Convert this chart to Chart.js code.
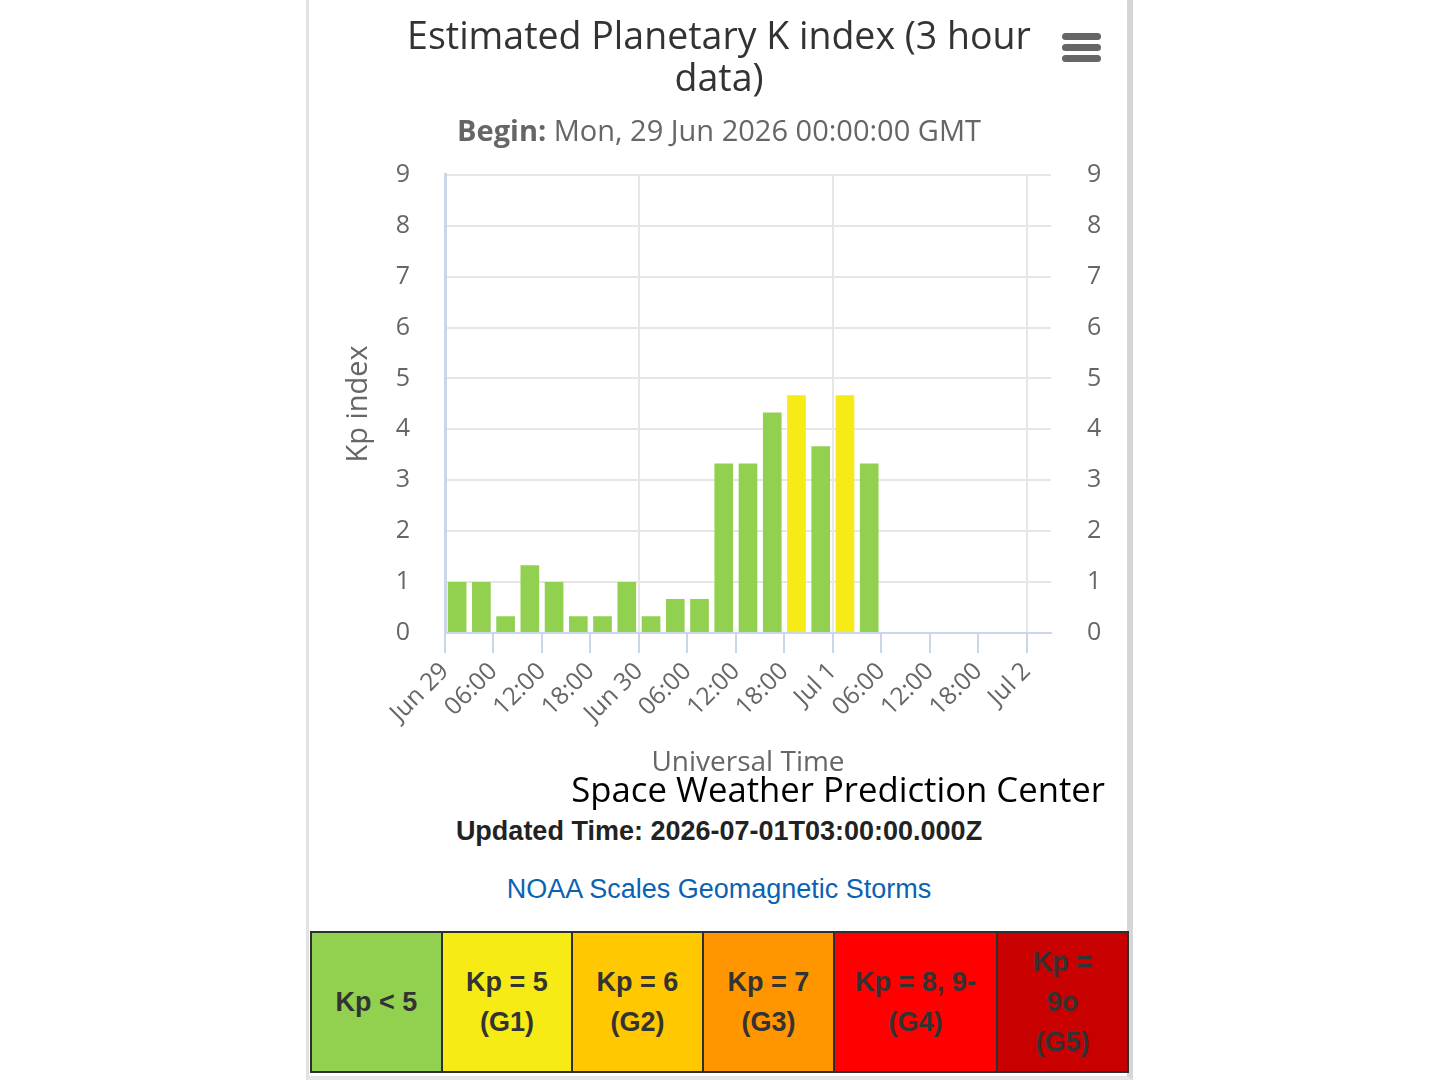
<!DOCTYPE html>
<html><head><meta charset="utf-8">
<script src="https://cdn.jsdelivr.net/npm/chart.js@4.4.1/dist/chart.umd.min.js"></script>
<style>
html,body{margin:0;padding:0;background:#fff;width:1440px;height:1080px;overflow:hidden}
#frame{position:absolute;left:306px;top:0;width:818px;height:1076px;border-left:3px solid #e2e2e2;border-right:6px solid #d6d6d6;border-bottom:4px solid #e6e6e6}
#chartBox{position:absolute;left:310px;top:0;width:818px;height:780px}
#subtitle{position:absolute;left:310px;width:818px;top:111px;text-align:center;font-family:"Open Sans",sans-serif;font-size:29px;color:#666;line-height:38px}
#menu{position:absolute;left:1062px;top:33px;width:39px}
#menu div{height:7px;background:#666;border-radius:4px;margin-bottom:4px}
#credit{position:absolute;right:335px;top:766px;font-family:"Open Sans",sans-serif;font-size:34.7px;color:#000;line-height:46px;white-space:nowrap}
#updated{position:absolute;left:310px;width:818px;top:814px;text-align:center;font-family:"Liberation Sans",Arial,sans-serif;font-weight:bold;font-size:27px;color:#222;line-height:34px}
#noaa{position:absolute;left:310px;width:818px;top:872px;text-align:center;font-family:"Liberation Sans",Arial,sans-serif;font-size:27px;color:#0b62b3;line-height:34px}
table{position:absolute;left:310px;top:931px;width:817px;height:142px;border-collapse:collapse;table-layout:fixed}
td{border:2px solid #2f2f2f;text-align:center;vertical-align:middle;font-family:"Liberation Sans",Arial,sans-serif;font-weight:bold;font-size:27px;line-height:40px;color:#333;padding:0}
</style>
</head><body>
<div id="frame"></div>
<div id="chartBox"><canvas id="c"></canvas></div>
<div id="subtitle"><b>Begin:</b> Mon, 29 Jun 2026 00:00:00 GMT</div>
<div id="menu"><div></div><div></div><div></div></div>
<div id="credit">Space Weather Prediction Center</div>
<div id="updated">Updated Time: 2026-07-01T03:00:00.000Z</div>
<div id="noaa">NOAA Scales Geomagnetic Storms</div>
<table>
<colgroup><col style="width:131px"><col style="width:130px"><col style="width:131px"><col style="width:131px"><col style="width:163px"><col style="width:131px"></colgroup>
<tr>
<td style="background:#92d050">Kp &lt; 5</td>
<td style="background:#f6eb14">Kp = 5<br>(G1)</td>
<td style="background:#ffc800">Kp = 6<br>(G2)</td>
<td style="background:#ff9600">Kp = 7<br>(G3)</td>
<td style="background:#ff0000">Kp = 8, 9-<br>(G4)</td>
<td style="background:#c80000">Kp =<br>9o<br>(G5)</td>
</tr>
</table>
<script>
// Hours since Mon 29 Jun 2026 00:00 UTC (start of each 3-hour period)
const periodStartHours = [0, 3, 6, 9, 12, 15, 18, 21, 24, 27, 30, 33, 36, 39, 42, 45, 48, 51];
const kpValues = [1.00, 1.00, 0.33, 1.33, 1.00, 0.33, 0.33, 1.00, 0.33, 0.67, 0.67, 3.33, 3.33, 4.33, 4.67, 3.67, 4.67, 3.33];
const tickHours = [0, 6, 12, 18, 24, 30, 36, 42, 48, 54, 60, 66, 72];
const tickLabels = ["Jun 29", "06:00", "12:00", "18:00", "Jun 30", "06:00", "12:00", "18:00", "Jul 1", "06:00", "12:00", "18:00", "Jul 2"];
const yTicks = [0, 1, 2, 3, 4, 5, 6, 7, 8, 9];
const axisStartHour = 0, axisEndHour = 75, periodLength = 3;
const G1_THRESHOLD = 4.5;

const GREEN = '#92d050', YELLOW = '#f6eb14';
const points = periodStartHours.map((h, i) => ({x: h + periodLength / 2, y: kpValues[i]}));
const colors = kpValues.map(v => v >= G1_THRESHOLD ? YELLOW : GREEN);

const FONT = '"Open Sans", sans-serif';
const W = 818, H = 780;
const PLOT_L = 135, PLOT_R = 741, PLOT_B = 633;

new Chart(document.getElementById('c'), {
  type: 'bar',
  data: {
    datasets: [{
      label: 'Kp',
      data: points,
      backgroundColor: colors,
      borderWidth: 0,
      barPercentage: 0.77,
      categoryPercentage: 1.0,
      yAxisID: 'y'
    }]
  },
  options: {
    responsive: true,
    maintainAspectRatio: false,
    animation: false,
    layout: {padding: 0},
    plugins: {
      legend: {display: false},
      tooltip: {enabled: false},
      title: {
        display: true,
        text: ['Estimated Planetary K index (3 hour', 'data)'],
        color: '#333',
        font: {family: FONT, size: 37.5, weight: 'normal', lineHeight: 1.13},
        padding: {top: 17, bottom: 73}
      }
    },
    scales: {
      x: {
        type: 'linear',
        min: axisStartHour,
        max: axisEndHour,
        offset: false,
        afterBuildTicks: s => { s.ticks = tickHours.map(v => ({value: v})); },
        afterFit: s => { s.height = H - PLOT_B; },
        ticks: {
          autoSkip: false,
          minRotation: 45,
          maxRotation: 45,
          color: '#666',
          padding: 4,
          font: {family: FONT, size: 24.5},
          callback: (v) => { const i = tickHours.indexOf(v); return i >= 0 ? tickLabels[i] : ''; }
        },
        grid: {
          offset: false,
          lineWidth: 2,
          color: ctx => (ctx.tick && ctx.tick.value > 0 && ctx.tick.value % 24 === 0) ? '#e6e6e6' : 'rgba(0,0,0,0)',
          tickColor: '#ccd6eb',
          tickLength: 20,
          drawTicks: true
        },
        border: {display: true, color: '#ccd6eb', width: 2},
        title: {
          display: true,
          text: 'Universal Time',
          color: '#666',
          font: {family: FONT, size: 28},
          padding: {top: 0, bottom: 0}
        }
      },
      y: {
        position: 'left',
        min: 0, max: 9,
        afterBuildTicks: s => { s.ticks = yTicks.map(v => ({value: v})); },
        afterFit: s => { s.width = PLOT_L; },
        ticks: {color: '#666', font: {family: FONT, size: 25}, padding: 35},
        grid: {color: '#e6e6e6', lineWidth: 2, drawTicks: false},
        border: {display: true, color: '#ccd6eb', width: 3},
        title: {
          display: true,
          text: 'Kp index',
          color: '#666',
          font: {family: FONT, size: 29},
          padding: {top: 31, bottom: 0}
        }
      },
      y2: {
        position: 'right',
        min: 0, max: 9,
        afterBuildTicks: s => { s.ticks = yTicks.map(v => ({value: v})); },
        afterFit: s => { s.width = W - PLOT_R; },
        ticks: {color: '#666', font: {family: FONT, size: 25}, padding: 36},
        grid: {drawOnChartArea: false, drawTicks: false},
        border: {display: false}
      }
    }
  }
});
</script>
</body></html>
